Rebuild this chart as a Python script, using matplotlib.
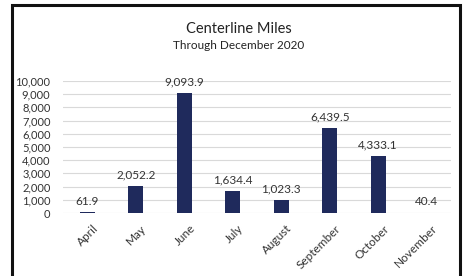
import matplotlib.pyplot as plt
import matplotlib.transforms as mtransforms
from matplotlib.patches import Rectangle

months = ['April', 'May', 'June', 'July', 'August', 'September', 'October', 'November']
miles = [61.9, 2052.2, 9093.9, 1634.4, 1023.3, 6439.5, 4333.1, 40.4]
yticks = list(range(0, 10001, 1000))

plt.rcParams['font.family'] = ['Lato', 'DejaVu Sans']

fig = plt.figure(figsize=(4.63, 2.76), dpi=100)
ax = fig.add_axes([0.136, 0.228, 0.838, 0.479])

x = range(len(months))
ax.bar(x, miles, width=0.31, color='#1f2a5c', zorder=3)
for i, v in zip(x, miles):
    ax.text(i, v + 420, f'{v:,.1f}', ha='center', va='bottom', fontsize=8.5, color='#333333')

ax.set_xlim(-0.5, len(months) - 0.5)
ax.set_ylim(0, 10000)
ax.set_yticks(yticks)
ax.set_yticklabels([f'{t:,}' for t in yticks], fontsize=8, color='#333333')
ax.set_xticks(list(x))
ax.set_xticklabels(months, rotation=45, ha='right', rotation_mode='anchor', fontsize=8.5, color='#333333')
ax.tick_params(axis='x', length=0, pad=7)
ax.tick_params(axis='y', length=0, pad=9)
shift = mtransforms.ScaledTranslation(5 / 100, 0, fig.dpi_scale_trans)
for lbl in ax.get_xticklabels():
    lbl.set_transform(lbl.get_transform() + shift)
ax.grid(axis='y', color='#d9d9d9', linewidth=0.8, zorder=0)
for s in ax.spines.values():
    s.set_visible(False)

fig.text(0.515, 0.895, 'Centerline Miles', ha='center', va='center', fontsize=10.5, color='#222222')
fig.text(0.515, 0.835, 'Through December 2020', ha='center', va='center', fontsize=8.5, color='#222222')

# outer border (open at the bottom, as cropped)
fig.patches.append(Rectangle((12 / 463, -0.05), (460 - 12) / 463, 1.05 - 5 / 276,
                             transform=fig.transFigure, fill=False, edgecolor='#111111', linewidth=2.2))

fig.savefig('out.png', dpi=100)
